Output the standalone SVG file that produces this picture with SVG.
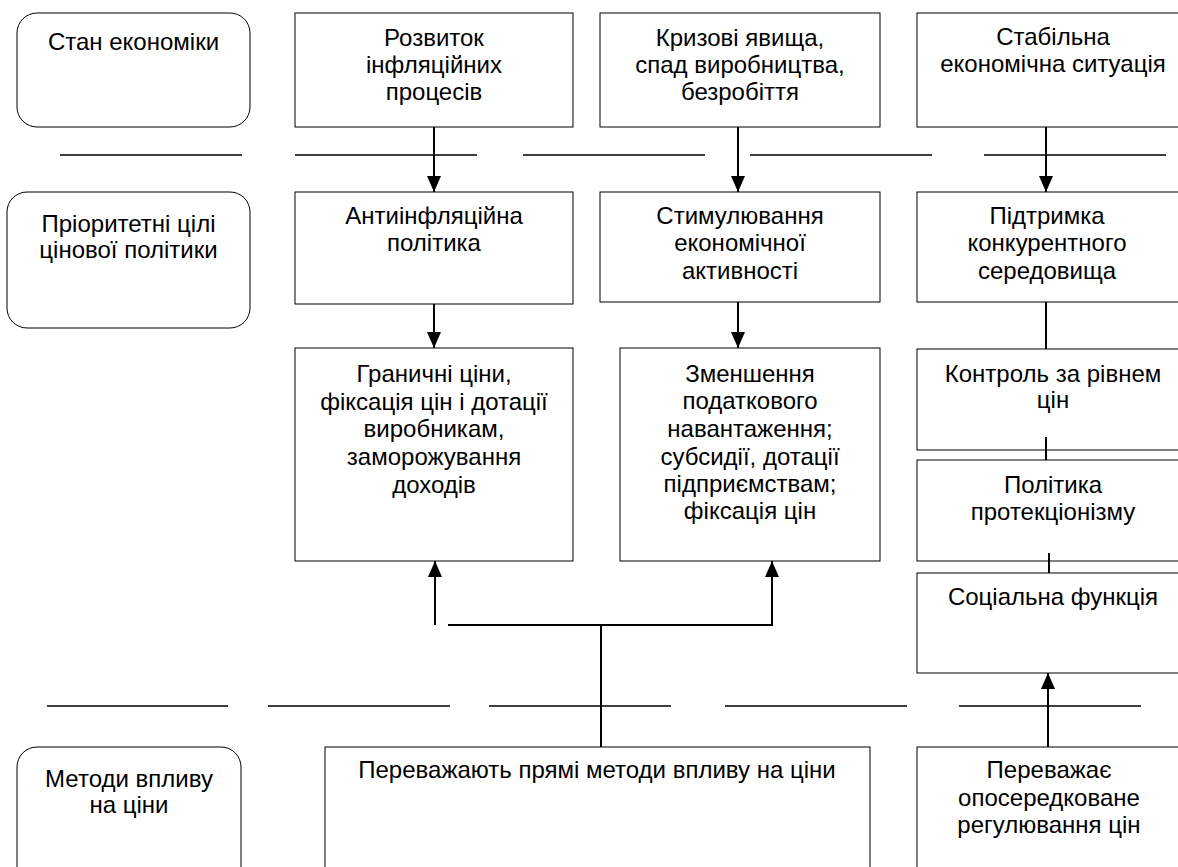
<svg xmlns="http://www.w3.org/2000/svg" width="1178" height="867" viewBox="0 0 1178 867">
<defs>
<style>
.box{fill:#fff;stroke:#000;stroke-width:1}
.t{font-family:"Liberation Sans",Arial,sans-serif;font-size:24px;fill:#000;text-anchor:middle}
.ln{stroke:#000;stroke-width:2;fill:none}
.sep{stroke:#000;stroke-width:1.6;fill:none}
</style>
<marker id="ah" viewBox="0 0 16 14" refX="16" refY="7" markerWidth="16" markerHeight="14" markerUnits="userSpaceOnUse" orient="auto">
<path d="M0,0 L16,7 L0,14 Z" fill="#000"/>
</marker>
</defs>
<rect width="1178" height="867" fill="#fff"/>

<g id="separators">
<path class="sep" d="M60,155H242M295,155H477M523,155H705M750,155H932M984,155H1166"/>
<path class="sep" d="M47,706H228M268,706H450M489,706H671M725,706H907M959,706H1141"/>
</g>

<g id="label-economy">
<rect class="box" x="17" y="13" width="233" height="114" rx="20"/>
<text class="t" x="133.5" y="50">Стан економіки</text>
</g>
<g id="label-goals">
<rect class="box" x="7" y="192" width="243" height="136" rx="20"/>
<text class="t" x="128.5" y="232">Пріоритетні цілі</text>
<text class="t" x="128.5" y="258">цінової політики</text>
</g>
<g id="label-methods">
<rect class="box" x="17" y="747" width="224" height="140" rx="20"/>
<text class="t" x="129" y="787">Методи впливу</text>
<text class="t" x="129" y="813">на ціни</text>
</g>

<g id="inflation">
<rect class="box" x="295" y="13" width="278" height="114"/>
<text class="t" x="434" y="46">Розвиток</text>
<text class="t" x="434" y="73">інфляційних</text>
<text class="t" x="434" y="100">процесів</text>
</g>
<g id="crisis">
<rect class="box" x="600" y="13" width="280" height="114"/>
<text class="t" x="740" y="46">Кризові явища,</text>
<text class="t" x="740" y="73">спад виробництва,</text>
<text class="t" x="740" y="100">безробіття</text>
</g>
<g id="stable">
<rect class="box" x="917" y="13" width="273" height="114"/>
<text class="t" x="1053" y="45">Стабільна</text>
<text class="t" x="1053" y="72">економічна ситуація</text>
</g>

<g id="antiinflation">
<rect class="box" x="295" y="192" width="278" height="112"/>
<text class="t" x="434" y="224">Антиінфляційна</text>
<text class="t" x="434" y="251">політика</text>
</g>
<g id="stimulation">
<rect class="box" x="600" y="192" width="280" height="110"/>
<text class="t" x="740" y="224">Стимулювання</text>
<text class="t" x="740" y="251">економічної</text>
<text class="t" x="740" y="279">активності</text>
</g>
<g id="competition">
<rect class="box" x="917" y="192" width="273" height="110"/>
<text class="t" x="1047" y="224">Підтримка</text>
<text class="t" x="1047" y="251">конкурентного</text>
<text class="t" x="1047" y="279">середовища</text>
</g>

<g id="limits">
<rect class="box" x="295" y="348" width="278" height="213"/>
<text class="t" x="434" y="382">Граничні ціни,</text>
<text class="t" x="434" y="410">фіксація цін і дотації</text>
<text class="t" x="434" y="437">виробникам,</text>
<text class="t" x="434" y="465">заморожування</text>
<text class="t" x="434" y="493">доходів</text>
</g>
<g id="tax">
<rect class="box" x="620" y="348" width="260" height="213"/>
<text class="t" x="750" y="382">Зменшення</text>
<text class="t" x="750" y="409">податкового</text>
<text class="t" x="750" y="437">навантаження;</text>
<text class="t" x="750" y="465">субсидії, дотації</text>
<text class="t" x="750" y="492">підприємствам;</text>
<text class="t" x="750" y="519">фіксація цін</text>
</g>
<g id="control">
<rect class="box" x="917" y="349" width="273" height="101"/>
<text class="t" x="1053" y="382">Контроль за рівнем</text>
<text class="t" x="1053" y="408">цін</text>
</g>
<g id="protection">
<rect class="box" x="917" y="460" width="273" height="101"/>
<text class="t" x="1053" y="493">Політика</text>
<text class="t" x="1053" y="520">протекціонізму</text>
</g>
<g id="social">
<rect class="box" x="917" y="573" width="273" height="100"/>
<text class="t" x="1053" y="605">Соціальна функція</text>
</g>

<g id="direct">
<rect class="box" x="325" y="747" width="545" height="140"/>
<text class="t" x="597" y="778">Переважають прямі методи впливу на ціни</text>
</g>
<g id="indirect">
<rect class="box" x="917" y="747" width="273" height="140"/>
<text class="t" x="1049" y="778">Переважає</text>
<text class="t" x="1049" y="806">опосередковане</text>
<text class="t" x="1049" y="833">регулювання цін</text>
</g>

<g id="connectors">
<path class="ln" d="M434,127V192" marker-end="url(#ah)"/>
<path class="ln" d="M738,127V192" marker-end="url(#ah)"/>
<path class="ln" d="M1046,127V192" marker-end="url(#ah)"/>
<path class="ln" d="M434,304V348" marker-end="url(#ah)"/>
<path class="ln" d="M738,302V348" marker-end="url(#ah)"/>
<path class="ln" d="M1046,302V349"/>
<path class="ln" d="M1046,437V460"/>
<path class="ln" d="M1049,553V573"/>
<path class="ln" d="M601,747V625"/>
<path class="ln" d="M448,625H772V561" marker-end="url(#ah)"/>
<path class="ln" d="M435,625V561" marker-end="url(#ah)"/>
<path class="ln" d="M1048,747V673" marker-end="url(#ah)"/>
</g>
</svg>
